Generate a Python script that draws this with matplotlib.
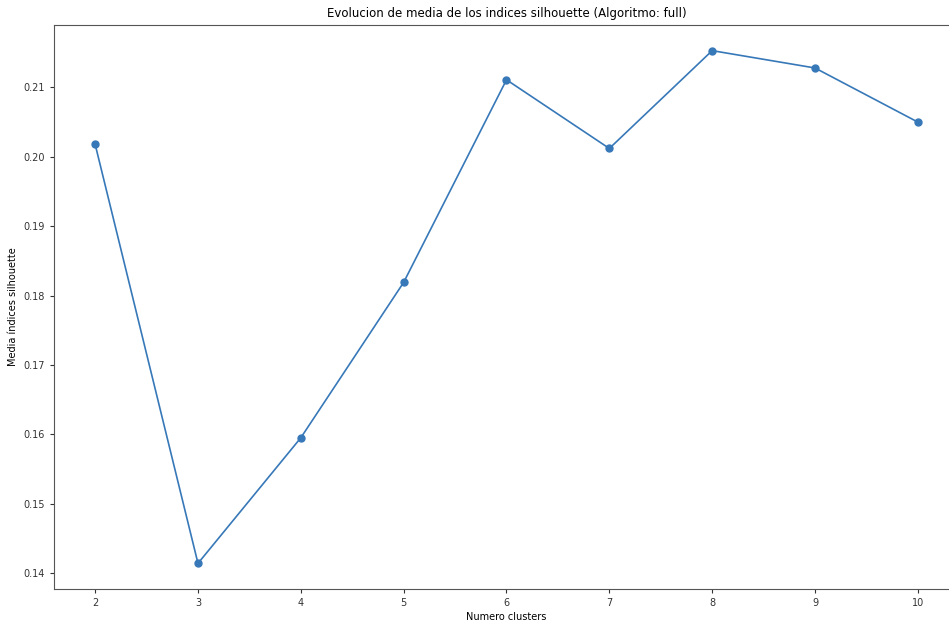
import numpy as np
import matplotlib
matplotlib.use("Agg")
from matplotlib import pyplot as plt

# numero de clusters y media de los indices silhouette
n_clusters = [2, 3, 4, 5, 6, 7, 8, 9, 10]
media_silhouette = [0.2018, 0.1414, 0.1595, 0.1819, 0.2111, 0.2012, 0.2153, 0.2128, 0.2050]

fig = plt.figure(figsize=(9.49, 6.21), dpi=100)
ax = fig.add_axes([54 / 949, 32 / 621, 905 / 949, 564 / 621])

ax.plot(n_clusters, media_silhouette, marker='o', color='#3778b8', markersize=5, linewidth=1.2)

ax.set_title('Evolucion de media de los indices silhouette (Algoritmo: full)', fontsize=8.5)
ax.set_xlabel('Numero clusters', fontsize=7, labelpad=3)
ax.set_ylabel('Media índices silhouette', fontsize=7, labelpad=4)
ax.tick_params(labelsize=7, colors='#333333', length=3)
for s in ax.spines.values():
    s.set_color('#555555')

fig.savefig('out.png', dpi=100)
